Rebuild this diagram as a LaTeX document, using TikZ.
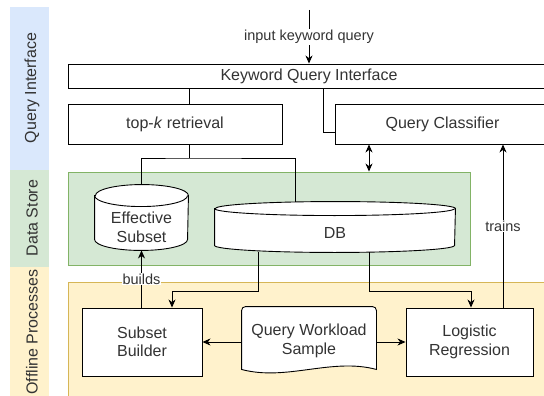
\documentclass[tikz,border=0pt]{standalone}
\usepackage{fontspec}
\setmainfont{Liberation Sans}
\usetikzlibrary{arrows.meta}

\newcommand{\boxfont}{\fontsize{16}{18.5}\selectfont}
\newcommand{\tagfont}{\fontsize{14.5}{16}\selectfont}

\definecolor{qiblue}{HTML}{DAE8FC}
\definecolor{dsgreen}{HTML}{D5E8D4}
\definecolor{dsline}{HTML}{82B366}
\definecolor{opyellow}{HTML}{FFF2CC}
\definecolor{opline}{HTML}{D6B656}
\definecolor{ink}{HTML}{333333}

\begin{document}
\begin{tikzpicture}[x = 1pt, y = -1pt, line width = 0.9pt,
                    box/.style = {rectangle, draw, fill = white, align = center, font = \boxfont, text = ink},
                    store/.style = {rectangle, inner sep = 0pt, align = center, font = \boxfont, text = ink},
                    band/.style = {rectangle, inner sep = 0pt, minimum width = 39pt},
                    area/.style = {rectangle, inner sep = 0pt},
                    lane/.style = {font = \boxfont, text = ink, rotate = 90},
                    tag/.style = {fill = white, inner sep = 1pt, font = \tagfont, text = ink},
                    arr/.style = {-{Stealth[length = 8pt, width = 7pt, inset = 2.5pt]}},
                    arrs/.style = {{Stealth[length = 8pt, width = 7pt, inset = 2.5pt]}-{Stealth[length = 8pt, width = 7pt, inset = 2.5pt]}}]
  \clip (0,0) rectangle (544,396);

  % lanes
  \node [band, fill = qiblue, minimum height = 163pt] (QIband) at (29.5,88.5) {};
  \node [band, fill = dsgreen, minimum height = 97pt] (DSband) at (29.5,218.5) {};
  \node [band, fill = opyellow, minimum height = 133pt] (OPband) at (29.5,333.5) {};
  \node [lane] (QIlane) at (32,88) {Query Interface};
  \node [lane] (DSlane) at (32,218) {Data Store};
  \node [lane] (OPlane) at (32,332) {Offline Processes};

  % shaded areas
  \node [area, draw = dsline, fill = dsgreen, minimum width = 402pt, minimum height = 93pt] (DSarea) at (269,218.5) {};
  \node [area, draw = opline, fill = opyellow, minimum width = 482pt, minimum height = 118pt] (OParea) at (309,341) {};

  % query interface
  \node [box, minimum width = 482pt, minimum height = 24pt] (KQI) at (309,76) {Keyword Query Interface};
  \node [box, minimum width = 214pt, minimum height = 40pt] (TopK) at (175,124) {top-\textit{k} retrieval};
  \node [box, minimum width = 215pt, minimum height = 40pt] (QC) at (442.5,124) {Query Classifier};

  % data store
  \node [store, minimum width = 93pt, minimum height = 65pt] (ES) at (141.5,217.5) {};
  \draw [fill = white] ([yshift = -11pt]ES.north west) -- ([yshift = 11pt]ES.south west)
    arc [start angle = 180, end angle = 360, x radius = 46.5pt, y radius = 11pt]
    -- ([yshift = -11pt]ES.north east)
    arc [start angle = 0, end angle = 180, x radius = 46.5pt, y radius = 11pt] -- cycle;
  \draw ([yshift = -11pt]ES.north west) arc [start angle = 180, end angle = 360, x radius = 46.5pt, y radius = 11pt];
  \node [store] (ESt) at (141.5,227.5) {Effective\\Subset};

  \node [store, minimum width = 240pt, minimum height = 50pt] (DB) at (335,227) {};
  \draw [fill = white] ([yshift = -7pt]DB.north west) -- ([yshift = 7pt]DB.south west)
    arc [start angle = 180, end angle = 360, x radius = 120pt, y radius = 7pt]
    -- ([yshift = -7pt]DB.north east)
    arc [start angle = 0, end angle = 180, x radius = 120pt, y radius = 7pt] -- cycle;
  \draw ([yshift = -7pt]DB.north west) arc [start angle = 180, end angle = 360, x radius = 120pt, y radius = 7pt];
  \node [store] (DBt) at (335,233) {DB};

  % offline processes
  \node [box, minimum width = 120pt, minimum height = 68pt] (SB) at (142,342) {Subset\\Builder};
  \node [box, minimum width = 127pt, minimum height = 68pt] (LR) at (469.5,342) {Logistic\\Regression};
  \node [store, minimum width = 134pt, minimum height = 70pt] (QWS) at (309,342) {};
  \draw [fill = white] ([yshift = 8pt]QWS.south west) [rounded corners = 4pt] -- (QWS.north west)
    -- (QWS.north east) [sharp corners] -- ([yshift = 8pt]QWS.south east)
    .. controls +(-45pt,12pt) and +(45pt,-12pt) .. ([yshift = 8pt]QWS.south west) -- cycle;
  \node [store] (QWSt) at (309,341) {Query Workload\\Sample};

  % junction points
  \coordinate (src) at (309,10);
  \coordinate (fork) at (189,158);
  \coordinate (dbtap) at (295,158);
  \coordinate (qctap) at (323,132);
  \coordinate (dbl) at (369,158);
  \coordinate (trn) at (503,228);
  \coordinate (dbL) at (258,291);
  \coordinate (sbIn) at (172,291);
  \coordinate (dbR) at (369,291);
  \coordinate (lrIn) at (471,291);

  \draw [arr] (src) -- node [tag] {input keyword query} (KQI.north);
  \draw (KQI.south -| fork) -- (TopK.north -| fork);
  \draw (TopK.south -| fork) -- (fork);
  \draw (ES.north) |- (fork) -| (DB.north -| dbtap);
  \draw (KQI.south -| qctap) |- ([yshift = -8pt]QC.west);
  \draw [arrs] (QC.south -| dbl) -- (DSarea.north -| dbl);
  \draw [arr] (LR.north -| trn) -- node [tag] {trains} (QC.south -| trn);

  \draw [arr] (DB.south -| dbL) -- (dbL) -- (sbIn) -- (SB.north -| sbIn);
  \draw [arr] (DB.south -| dbR) -- (dbR) -- (lrIn) -- (LR.north -| lrIn);
  \draw [arr] (SB.north -| ES.south) -- node [tag] {builds} (ES.south);
  \draw [arr] (QWS.west) -- (SB.east);
  \draw [arr] (QWS.east) -- (LR.west);
\end{tikzpicture}
\end{document}
